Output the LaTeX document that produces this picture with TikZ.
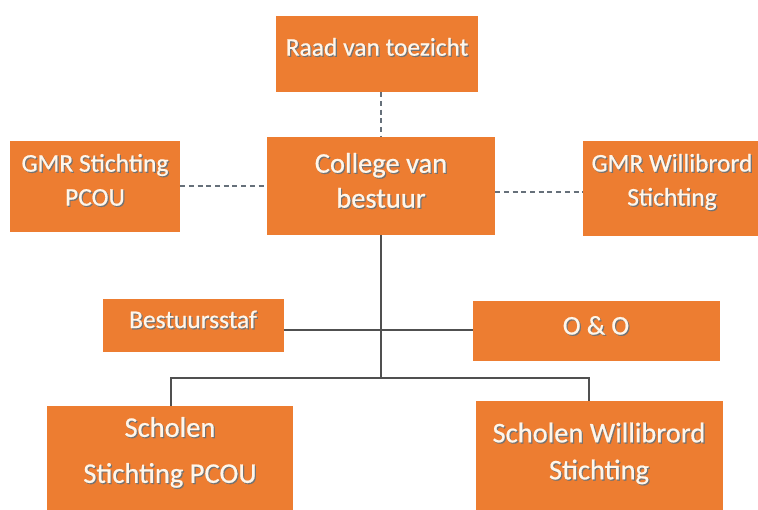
\documentclass[tikz,border=0pt]{standalone}
\usepackage{fontspec}
\setmainfont{Carlito}[UprightFeatures={FakeBold=0.6}]
\definecolor{boxorange}{HTML}{ED7D31}
\definecolor{linegray}{HTML}{505050}
\definecolor{dashgray}{HTML}{66707A}
\definecolor{txtcream}{HTML}{FFF6EA}
\newcommand\shd[1]{\leavevmode\rlap{\kern1.2pt\raisebox{-1.2pt}{\textcolor{black!55}{#1}}}#1}
\tikzset{
  orgbox/.style={fill=boxorange, draw=none, inner sep=0pt, rectangle},
  smalltxt/.style={text=txtcream, align=center, inner sep=0pt, font=\fontsize{25.5}{34}\selectfont},
  bigtxt/.style={text=txtcream, align=center, inner sep=0pt, font=\fontsize{28.5}{35}\selectfont},
  solidline/.style={draw=linegray, line width=1.6pt},
  dashline/.style={draw=dashgray, line width=2pt, dash pattern=on 5pt off 3.7pt},
}
\begin{document}
\begin{tikzpicture}[x=1pt,y=-1pt]
\useasboundingbox (0,0) rectangle (758,509);
% boxes
\node[orgbox, minimum width=202pt, minimum height=76pt] (raad) at (377,54) {};
\node[orgbox, minimum width=228pt, minimum height=98pt] (college) at (381,186) {};
\node[orgbox, minimum width=170pt, minimum height=91pt] (gmrp) at (95,186) {};
\node[orgbox, minimum width=180pt, minimum height=95pt] (gmrw) at (673,188.5) {};
\node[orgbox, minimum width=181pt, minimum height=53pt] (staf) at (193,325.5) {};
\node[orgbox, minimum width=247pt, minimum height=60pt] (oo) at (596.5,330.5) {};
\node[orgbox, minimum width=246pt, minimum height=110pt] (spcou) at (170,461) {};
\node[orgbox, minimum width=247pt, minimum height=114pt] (swill) at (599.5,458) {};
% texts
\node[smalltxt] (raad-t) at (377,47.5) {\shd{Raad van toezicht}};
\node[bigtxt] (college-t) at (381,181) {\shd{College van}\\\shd{bestuur}};
\node[smalltxt] (gmrp-t) at (95,180.5) {\shd{GMR Stichting}\\\shd{PCOU}};
\node[smalltxt] (gmrw-t) at (672,182.5) {\shd{GMR Willibrord}\\\shd{Stichting}};
\node[smalltxt] (staf-t) at (193,320) {\shd{Bestuursstaf}};
\node[bigtxt, font=\fontsize{27}{35}\selectfont] (oo-t) at (596,326) {\shd{O \& O}};
\node[bigtxt, font=\fontsize{28.5}{46}\selectfont] (spcou-t) at (170,453) {\shd{Scholen}\\\shd{Stichting PCOU}};
\node[bigtxt, font=\fontsize{28.5}{37}\selectfont] (swill-t) at (599,454) {\shd{Scholen Willibrord}\\\shd{Stichting}};
% junction coordinates
\coordinate (jbranch) at (381,378);
\coordinate (jmid) at (381,330);
\coordinate (dright) at (0,192);
\coordinate (lx) at (171,0);
\coordinate (rx) at (589,0);
% dashed links
\draw[dashline] (college.north |- raad.south) -- (college.north);
\draw[dashline] (gmrp.east |- college.center) -- (college.west);
\draw[dashline] (college.east |- dright) -- (gmrw.west |- dright);
% solid links
\draw[solidline] (college.south) -- (jbranch);
\draw[solidline] (staf.east |- jmid) -- (oo.west |- jmid);
\draw[solidline] (lx |- spcou.north) -- (lx |- jbranch) -- (rx |- jbranch) -- (rx |- swill.north);
\end{tikzpicture}
\end{document}
